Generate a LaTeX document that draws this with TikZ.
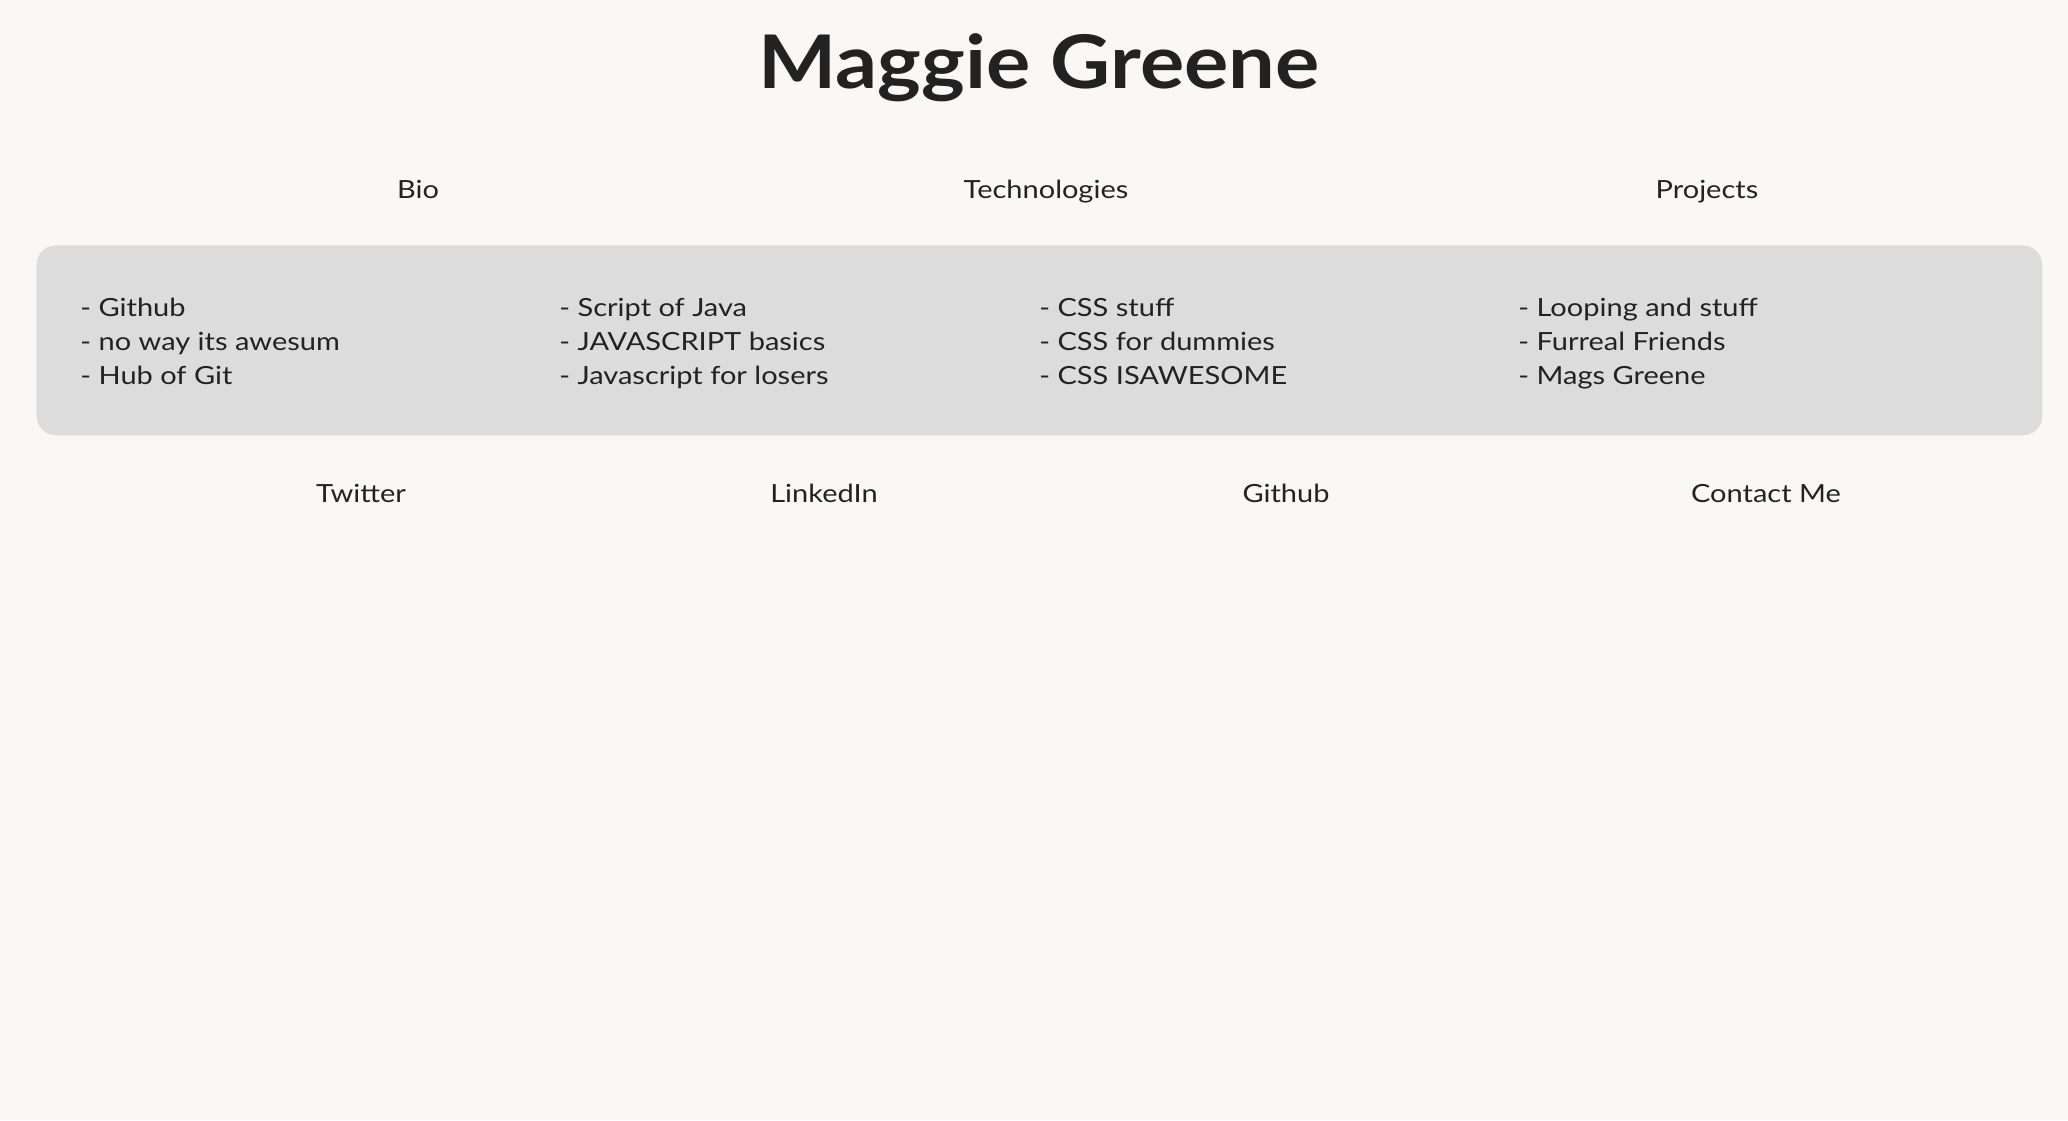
\documentclass[tikz,border=0pt]{standalone}
\usepackage{fontspec}
\setmainfont[FakeStretch=1.16]{Lato}
\newfontfamily\titlefont[FakeStretch=1.12]{Lato}
\definecolor{pagebg}{HTML}{F9F8F6}
\definecolor{panelgray}{HTML}{DCDCDC}
\definecolor{inkdark}{HTML}{222222}
\tikzset{
    navtext/.style={anchor=base, inner sep=0pt, text=inkdark, font=\fontsize{12.5}{15}\selectfont},
    listtext/.style={anchor=base west, inner sep=0pt, text=inkdark, font=\fontsize{12.5}{15}\selectfont},
}
\begin{document}
\begin{tikzpicture}[x=0.5pt, y=-0.5pt]
    \fill[pagebg] (0,0) rectangle (2068,1120);
    \useasboundingbox (0,0) rectangle (2068,1120);

    \node[anchor=base, inner sep=0pt, text=inkdark, font=\titlefont\fontsize{37}{40}\bfseries\selectfont] at (1039, 88) (title) {Maggie Greene};

    \node[navtext] at (418, 198)  (bio) {Bio};
    \node[navtext] at (1046, 198) (tech) {Technologies};
    \node[navtext] at (1707, 198) (proj) {Projects};

    \node[fill=panelgray, rounded corners=10pt, minimum width=1003pt, minimum height=95pt, inner sep=0pt, anchor=north west] at (36, 245) (panel) {};

    \node[listtext] at (80, 316)  (bio1) {- Github};
    \node[listtext] at (80, 350)  (bio2) {- no way its awesum};
    \node[listtext] at (80, 384)  (bio3) {- Hub of Git};

    \node[listtext] at (559, 316) (js1) {- Script of Java};
    \node[listtext] at (559, 350) (js2) {- JAVASCRIPT basics};
    \node[listtext] at (559, 384) (js3) {- Javascript for losers};

    \node[listtext] at (1039, 316) (css1) {- CSS stuff};
    \node[listtext] at (1039, 350) (css2) {- CSS for dummies};
    \node[listtext] at (1039, 384) (css3) {- CSS ISAWESOME};

    \node[listtext] at (1518, 316) (prj1) {- Looping and stuff};
    \node[listtext] at (1518, 350) (prj2) {- Furreal Friends};
    \node[listtext] at (1518, 384) (prj3) {- Mags Greene};

    \node[navtext] at (361, 502)  (twitter) {Twitter};
    \node[navtext] at (824, 502)  (linkedin) {LinkedIn};
    \node[navtext] at (1286, 502) (github) {Github};
    \node[navtext] at (1766, 502) (contact) {Contact Me};
\end{tikzpicture}
\end{document}
